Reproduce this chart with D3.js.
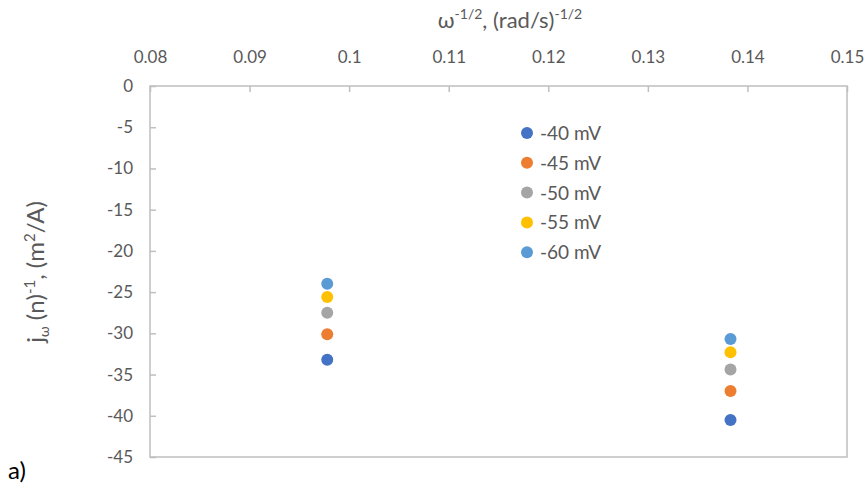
<!DOCTYPE html>
<html>
<head>
<meta charset="utf-8">
<script src="https://cdn.jsdelivr.net/npm/d3@7"></script>
<style>
  body { margin: 0; background: #fff; }
  text { font-family: Lato, "Open Sans", sans-serif; }
</style>
</head>
<body>
<svg id="chart" width="868" height="487"></svg>
<script>
// data
const xPositions = [0.0978, 0.1383];
const seriesNames = ["-40 mV", "-45 mV", "-50 mV", "-55 mV", "-60 mV"];
const seriesColors = ["#4472C4", "#ED7D31", "#A5A5A5", "#FFC000", "#5B9BD5"];
const values40 = [-33.2, -40.5];
const values45 = [-30.1, -37.0];
const values50 = [-27.5, -34.4];
const values55 = [-25.6, -32.3];
const values60 = [-24.0, -30.7];
const xTicks = [0.08, 0.09, 0.1, 0.11, 0.12, 0.13, 0.14, 0.15];
const yTicks = [0, -5, -10, -15, -20, -25, -30, -35, -40, -45];

const allValues = [values40, values45, values50, values55, values60];
const points = [];
allValues.forEach((vals, i) => {
  vals.forEach((v, j) => points.push({ s: i, x: xPositions[j], y: v }));
});

const svg = d3.select("#chart");
const plotLeft = 150, plotRight = 847, plotTop = 86, plotBottom = 457;

const x = d3.scaleLinear().domain([0.08, 0.15]).range([plotLeft, plotRight]);
const y = d3.scaleLinear().domain([0, -45]).range([plotTop, plotBottom]);

const grey = "#595959";
const line = "#BFBFBF";

// plot frame
svg.append("rect")
    .attr("x", plotLeft).attr("y", plotTop)
    .attr("width", plotRight - plotLeft).attr("height", plotBottom - plotTop)
    .attr("fill", "none")
    .attr("stroke", line)
    .attr("stroke-width", 1.5);

// top axis, ticks pointing into the plot
const xAxis = svg.append("g")
    .attr("transform", `translate(0,${plotTop})`)
    .call(d3.axisTop(x).tickValues(xTicks).tickSize(-6).tickPadding(23)
      .tickFormat(d => d3.format("")(+d.toFixed(2))));
xAxis.select(".domain").remove();
xAxis.selectAll("line").attr("stroke", line).attr("stroke-width", 1.5);
xAxis.selectAll("text").attr("fill", grey).style("font-size", "17px");

// left axis, ticks inside too
const yAxis = svg.append("g")
    .attr("transform", `translate(${plotLeft},0)`)
    .call(d3.axisLeft(y).tickValues(yTicks).tickSize(-6).tickPadding(17)
      .tickFormat(d => d === 0 ? "0" : "-" + Math.abs(d)));
yAxis.select(".domain").remove();
yAxis.selectAll("line").attr("stroke", line).attr("stroke-width", 1.5);
yAxis.selectAll("text").attr("fill", grey).style("font-size", "17px");

// axis titles
const xt = svg.append("text")
    .attr("x", 510).attr("y", 28)
    .attr("text-anchor", "middle")
    .attr("fill", grey)
    .style("font-size", "22px");
xt.append("tspan").text("ω");
xt.append("tspan").attr("dy", -9).style("font-size", "14px").text("-1/2");
xt.append("tspan").attr("dy", 9).text(", (rad/s)");
xt.append("tspan").attr("dy", -9).style("font-size", "14px").text("-1/2");

const yt = svg.append("text")
    .attr("transform", "translate(44,272) rotate(-90)")
    .attr("text-anchor", "middle")
    .attr("fill", grey)
    .style("font-size", "24px");
yt.append("tspan").text("j");
yt.append("tspan").attr("dy", 5).style("font-size", "14px").text("ω");
yt.append("tspan").attr("dy", -5).text(" (n)");
yt.append("tspan").attr("dy", -9).style("font-size", "15px").text("-1");
yt.append("tspan").attr("dy", 9).text(", (m");
yt.append("tspan").attr("dy", -9).style("font-size", "15px").text("2");
yt.append("tspan").attr("dy", 9).text("/A)");

// points
svg.append("g")
  .selectAll("circle")
  .data(points)
  .join("circle")
    .attr("cx", d => x(d.x))
    .attr("cy", d => y(d.y))
    .attr("r", 6)
    .attr("fill", d => seriesColors[d.s]);

// legend
const legend = svg.append("g")
  .selectAll("g")
  .data(seriesNames)
  .join("g")
    .attr("transform", (d, i) => `translate(527,${133 + i * 29.8})`);
legend.append("circle")
    .attr("r", 6)
    .attr("fill", (d, i) => seriesColors[i]);
legend.append("text")
    .attr("x", 13).attr("y", 7)
    .attr("fill", grey)
    .style("font-size", "19px")
    .text(d => d);

svg.append("text")
    .attr("x", 8).attr("y", 479)
    .attr("fill", "#000")
    .style("font-size", "24px")
    .text("a)");
</script>
</body>
</html>
